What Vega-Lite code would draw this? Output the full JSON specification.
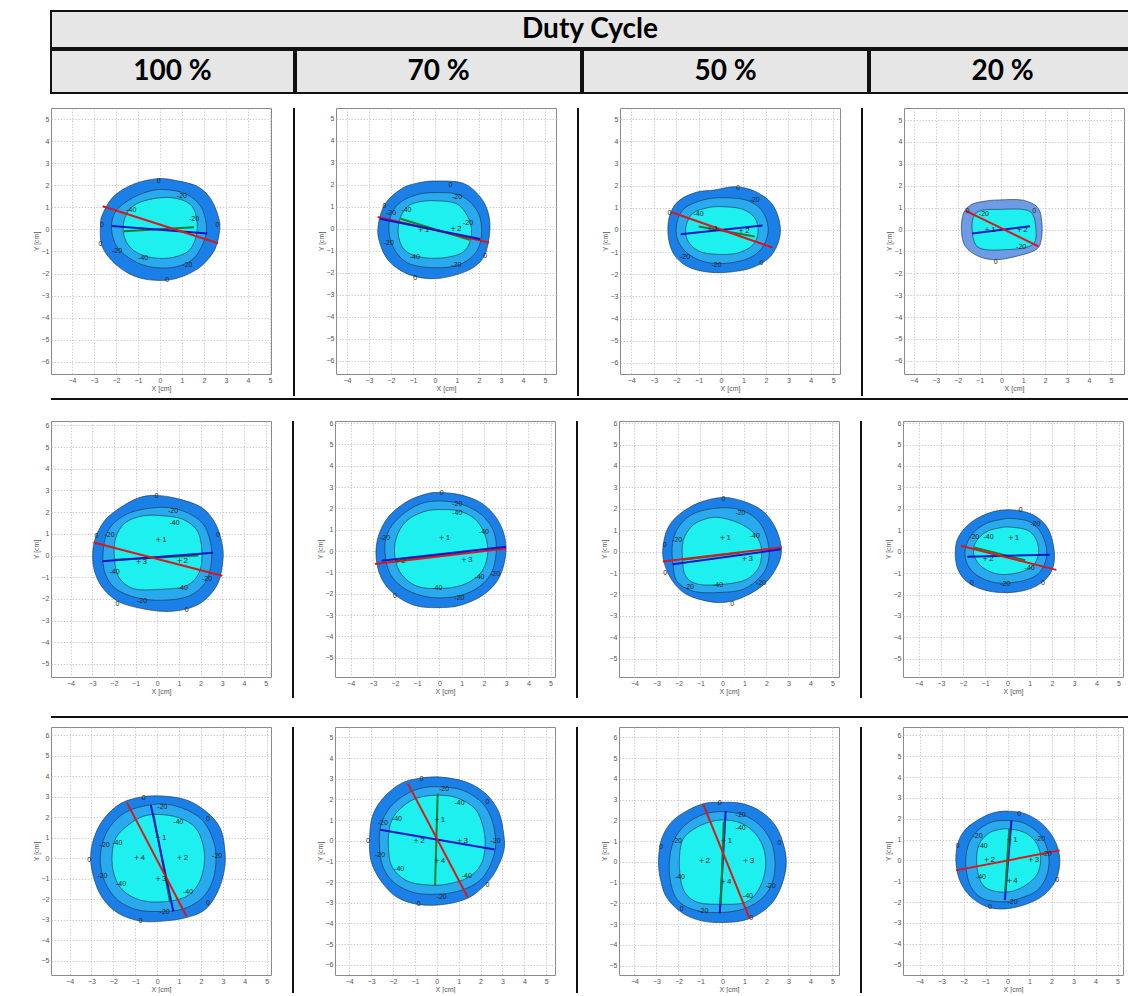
{
"$schema":"https://vega.github.io/schema/vega-lite/v6.json",
"padding":{"left":8,"top":10,"right":0,"bottom":0},
"datasets":{
"contour":[
{"p":1,"l":"0","x":-0.1,"y":2.3},{"p":1,"l":"0","x":0.8,"y":2.2},{"p":1,"l":"0","x":1.7,"y":1.95},{"p":1,"l":"0","x":2.3,"y":1.4},{"p":1,"l":"0","x":2.65,"y":0.6},{"p":1,"l":"0","x":2.72,"y":0.0},{"p":1,"l":"0","x":2.5,"y":-0.9},{"p":1,"l":"0","x":1.9,"y":-1.65},{"p":1,"l":"0","x":1.1,"y":-2.1},{"p":1,"l":"0","x":0.3,"y":-2.3},{"p":1,"l":"0","x":-0.7,"y":-2.25},{"p":1,"l":"0","x":-1.5,"y":-1.95},{"p":1,"l":"0","x":-2.2,"y":-1.4},{"p":1,"l":"0","x":-2.65,"y":-0.7},{"p":1,"l":"0","x":-2.7,"y":0.2},{"p":1,"l":"0","x":-2.6,"y":0.7},{"p":1,"l":"0","x":-2.1,"y":1.5},{"p":1,"l":"0","x":-1.2,"y":2.05},
{"p":1,"l":"-20","x":0.3,"y":1.8},{"p":1,"l":"-20","x":1.2,"y":1.6},{"p":1,"l":"-20","x":1.85,"y":1.05},{"p":1,"l":"-20","x":2.1,"y":0.3},{"p":1,"l":"-20","x":2.05,"y":-0.4},{"p":1,"l":"-20","x":1.6,"y":-1.25},{"p":1,"l":"-20","x":0.9,"y":-1.65},{"p":1,"l":"-20","x":0.1,"y":-1.75},{"p":1,"l":"-20","x":-0.8,"y":-1.6},{"p":1,"l":"-20","x":-1.6,"y":-1.15},{"p":1,"l":"-20","x":-2.05,"y":-0.6},{"p":1,"l":"-20","x":-2.2,"y":0.2},{"p":1,"l":"-20","x":-1.95,"y":0.9},{"p":1,"l":"-20","x":-1.2,"y":1.45},{"p":1,"l":"-20","x":-0.4,"y":1.75},
{"p":1,"l":"-40","x":0.3,"y":1.45},{"p":1,"l":"-40","x":1.1,"y":1.3},{"p":1,"l":"-40","x":1.55,"y":0.9},{"p":1,"l":"-40","x":1.7,"y":0.1},{"p":1,"l":"-40","x":1.55,"y":-0.6},{"p":1,"l":"-40","x":1.2,"y":-1.05},{"p":1,"l":"-40","x":0.4,"y":-1.3},{"p":1,"l":"-40","x":-0.5,"y":-1.25},{"p":1,"l":"-40","x":-1.2,"y":-0.95},{"p":1,"l":"-40","x":-1.6,"y":-0.4},{"p":1,"l":"-40","x":-1.65,"y":0.3},{"p":1,"l":"-40","x":-1.35,"y":0.95},{"p":1,"l":"-40","x":-0.7,"y":1.3},
{"p":2,"l":"0","x":0.05,"y":2.18},{"p":2,"l":"0","x":1.28,"y":2.08},{"p":2,"l":"0","x":2.05,"y":1.46},{"p":2,"l":"0","x":2.43,"y":0.69},{"p":2,"l":"0","x":2.48,"y":-0.23},{"p":2,"l":"0","x":2.2,"y":-1.3},{"p":2,"l":"0","x":1.43,"y":-1.92},{"p":2,"l":"0","x":0.05,"y":-2.26},{"p":2,"l":"0","x":-1.18,"y":-2.08},{"p":2,"l":"0","x":-2.1,"y":-1.46},{"p":2,"l":"0","x":-2.54,"y":-0.54},{"p":2,"l":"0","x":-2.57,"y":0.23},{"p":2,"l":"0","x":-2.26,"y":1.15},{"p":2,"l":"0","x":-1.49,"y":1.85},{"p":2,"l":"0","x":-0.72,"y":2.1},
{"p":2,"l":"-20","x":0,"y":1.65},{"p":2,"l":"-20","x":1.12,"y":1.54},{"p":2,"l":"-20","x":1.9,"y":0.85},{"p":2,"l":"-20","x":2.12,"y":-0.08},{"p":2,"l":"-20","x":1.9,"y":-1.0},{"p":2,"l":"-20","x":1.12,"y":-1.62},{"p":2,"l":"-20","x":0,"y":-1.77},{"p":2,"l":"-20","x":-1.18,"y":-1.58},{"p":2,"l":"-20","x":-1.8,"y":-1.0},{"p":2,"l":"-20","x":-2.08,"y":-0.23},{"p":2,"l":"-20","x":-2.03,"y":0.54},{"p":2,"l":"-20","x":-1.65,"y":1.15},{"p":2,"l":"-20","x":-0.88,"y":1.54},
{"p":2,"l":"-40","x":0,"y":1.28},{"p":2,"l":"-40","x":0.97,"y":1.15},{"p":2,"l":"-40","x":1.5,"y":0.54},{"p":2,"l":"-40","x":1.66,"y":-0.23},{"p":2,"l":"-40","x":1.35,"y":-1.0},{"p":2,"l":"-40","x":0.5,"y":-1.3},{"p":2,"l":"-40","x":-0.57,"y":-1.3},{"p":2,"l":"-40","x":-1.34,"y":-1.0},{"p":2,"l":"-40","x":-1.65,"y":-0.38},{"p":2,"l":"-40","x":-1.62,"y":0.38},{"p":2,"l":"-40","x":-1.26,"y":1.0},{"p":2,"l":"-40","x":-0.72,"y":1.23},
{"p":3,"l":"0","x":-0.3,"y":1.8},{"p":3,"l":"0","x":0.6,"y":1.95},{"p":3,"l":"0","x":1.5,"y":1.75},{"p":3,"l":"0","x":2.25,"y":1.2},{"p":3,"l":"0","x":2.6,"y":0.4},{"p":3,"l":"0","x":2.6,"y":-0.4},{"p":3,"l":"0","x":2.2,"y":-1.2},{"p":3,"l":"0","x":1.4,"y":-1.7},{"p":3,"l":"0","x":0.4,"y":-1.9},{"p":3,"l":"0","x":-0.6,"y":-1.9},{"p":3,"l":"0","x":-1.5,"y":-1.65},{"p":3,"l":"0","x":-2.1,"y":-1.1},{"p":3,"l":"0","x":-2.35,"y":-0.3},{"p":3,"l":"0","x":-2.3,"y":0.6},{"p":3,"l":"0","x":-1.9,"y":1.3},{"p":3,"l":"0","x":-1.1,"y":1.7},
{"p":3,"l":"-20","x":0,"y":1.45},{"p":3,"l":"-20","x":1.1,"y":1.35},{"p":3,"l":"-20","x":1.8,"y":0.9},{"p":3,"l":"-20","x":2.1,"y":0.1},{"p":3,"l":"-20","x":1.9,"y":-0.7},{"p":3,"l":"-20","x":1.3,"y":-1.25},{"p":3,"l":"-20","x":0.3,"y":-1.5},{"p":3,"l":"-20","x":-0.7,"y":-1.45},{"p":3,"l":"-20","x":-1.5,"y":-1.05},{"p":3,"l":"-20","x":-1.95,"y":-0.4},{"p":3,"l":"-20","x":-1.95,"y":0.4},{"p":3,"l":"-20","x":-1.6,"y":1.0},{"p":3,"l":"-20","x":-0.8,"y":1.35},
{"p":3,"l":"-40","x":0,"y":1.05},{"p":3,"l":"-40","x":0.9,"y":0.95},{"p":3,"l":"-40","x":1.5,"y":0.55},{"p":3,"l":"-40","x":1.65,"y":-0.1},{"p":3,"l":"-40","x":1.4,"y":-0.7},{"p":3,"l":"-40","x":0.7,"y":-1.05},{"p":3,"l":"-40","x":-0.2,"y":-1.1},{"p":3,"l":"-40","x":-1.0,"y":-0.95},{"p":3,"l":"-40","x":-1.5,"y":-0.45},{"p":3,"l":"-40","x":-1.55,"y":0.2},{"p":3,"l":"-40","x":-1.25,"y":0.75},{"p":3,"l":"-40","x":-0.6,"y":1.0},
{"p":4,"l":"0","x":-0.1,"y":1.35},{"p":4,"l":"0","x":0.97,"y":1.34},{"p":4,"l":"0","x":1.66,"y":1.0},{"p":4,"l":"0","x":1.85,"y":0.3},{"p":4,"l":"0","x":1.82,"y":-0.46},{"p":4,"l":"0","x":1.58,"y":-0.92},{"p":4,"l":"0","x":0.66,"y":-1.23},{"p":4,"l":"0","x":-0.26,"y":-1.38},{"p":4,"l":"0","x":-1.03,"y":-1.23},{"p":4,"l":"0","x":-1.65,"y":-0.77},{"p":4,"l":"0","x":-1.83,"y":0},{"p":4,"l":"0","x":-1.72,"y":0.77},{"p":4,"l":"0","x":-1.34,"y":1.15},{"p":4,"l":"0","x":-0.72,"y":1.3},
{"p":4,"l":"-20","x":-0.1,"y":0.92},{"p":4,"l":"-20","x":0.97,"y":0.92},{"p":4,"l":"-20","x":1.43,"y":0.69},{"p":4,"l":"-20","x":1.58,"y":0},{"p":4,"l":"-20","x":1.5,"y":-0.62},{"p":4,"l":"-20","x":0.97,"y":-0.85},{"p":4,"l":"-20","x":0.2,"y":-0.92},{"p":4,"l":"-20","x":-0.72,"y":-0.92},{"p":4,"l":"-20","x":-1.18,"y":-0.69},{"p":4,"l":"-20","x":-1.34,"y":0},{"p":4,"l":"-20","x":-1.26,"y":0.62},{"p":4,"l":"-20","x":-0.88,"y":0.88},
{"p":5,"l":"0","x":-0.03,"y":2.77},{"p":5,"l":"0","x":1.03,"y":2.6},{"p":5,"l":"0","x":2.07,"y":2.2},{"p":5,"l":"0","x":2.67,"y":1.5},{"p":5,"l":"0","x":2.97,"y":0.65},{"p":5,"l":"0","x":3.04,"y":-0.14},{"p":5,"l":"0","x":2.82,"y":-1.24},{"p":5,"l":"0","x":2.22,"y":-2.03},{"p":5,"l":"0","x":1.47,"y":-2.43},{"p":5,"l":"0","x":0.42,"y":-2.58},{"p":5,"l":"0","x":-0.78,"y":-2.43},{"p":5,"l":"0","x":-1.83,"y":-2.1},{"p":5,"l":"0","x":-2.58,"y":-1.4},{"p":5,"l":"0","x":-2.95,"y":-0.46},{"p":5,"l":"0","x":-2.9,"y":0.65},{"p":5,"l":"0","x":-2.43,"y":1.6},{"p":5,"l":"0","x":-1.68,"y":2.22},{"p":5,"l":"0","x":-0.85,"y":2.66},
{"p":5,"l":"-20","x":0.12,"y":2.22},{"p":5,"l":"-20","x":1.18,"y":2.06},{"p":5,"l":"-20","x":2.07,"y":1.51},{"p":5,"l":"-20","x":2.45,"y":0.65},{"p":5,"l":"-20","x":2.5,"y":-0.3},{"p":5,"l":"-20","x":2.22,"y":-1.24},{"p":5,"l":"-20","x":1.47,"y":-1.87},{"p":5,"l":"-20","x":0.27,"y":-2.06},{"p":5,"l":"-20","x":-0.93,"y":-1.95},{"p":5,"l":"-20","x":-1.98,"y":-1.48},{"p":5,"l":"-20","x":-2.46,"y":-0.61},{"p":5,"l":"-20","x":-2.46,"y":0.49},{"p":5,"l":"-20","x":-2.13,"y":1.35},{"p":5,"l":"-20","x":-1.23,"y":1.98},
{"p":5,"l":"-40","x":0.27,"y":1.83},{"p":5,"l":"-40","x":1.18,"y":1.67},{"p":5,"l":"-40","x":1.86,"y":1.12},{"p":5,"l":"-40","x":2.06,"y":0.17},{"p":5,"l":"-40","x":1.94,"y":-0.77},{"p":5,"l":"-40","x":1.33,"y":-1.4},{"p":5,"l":"-40","x":0.12,"y":-1.56},{"p":5,"l":"-40","x":-1.09,"y":-1.53},{"p":5,"l":"-40","x":-1.77,"y":-1.0},{"p":5,"l":"-40","x":-1.97,"y":-0.14},{"p":5,"l":"-40","x":-1.92,"y":0.8},{"p":5,"l":"-40","x":-1.47,"y":1.51},{"p":5,"l":"-40","x":-0.64,"y":1.83},
{"p":6,"l":"0","x":-0.1,"y":2.75},{"p":6,"l":"0","x":0.9,"y":2.65},{"p":6,"l":"0","x":1.9,"y":2.25},{"p":6,"l":"0","x":2.6,"y":1.5},{"p":6,"l":"0","x":2.95,"y":0.6},{"p":6,"l":"0","x":2.95,"y":-0.4},{"p":6,"l":"0","x":2.6,"y":-1.4},{"p":6,"l":"0","x":1.9,"y":-2.1},{"p":6,"l":"0","x":0.9,"y":-2.55},{"p":6,"l":"0","x":-0.1,"y":-2.65},{"p":6,"l":"0","x":-1.1,"y":-2.55},{"p":6,"l":"0","x":-2.0,"y":-2.05},{"p":6,"l":"0","x":-2.6,"y":-1.3},{"p":6,"l":"0","x":-2.85,"y":-0.3},{"p":6,"l":"0","x":-2.75,"y":0.7},{"p":6,"l":"0","x":-2.3,"y":1.6},{"p":6,"l":"0","x":-1.5,"y":2.3},{"p":6,"l":"0","x":-0.7,"y":2.65},
{"p":6,"l":"-20","x":0,"y":2.35},{"p":6,"l":"-20","x":1.0,"y":2.2},{"p":6,"l":"-20","x":1.9,"y":1.7},{"p":6,"l":"-20","x":2.45,"y":0.9},{"p":6,"l":"-20","x":2.55,"y":-0.1},{"p":6,"l":"-20","x":2.3,"y":-1.1},{"p":6,"l":"-20","x":1.6,"y":-1.8},{"p":6,"l":"-20","x":0.6,"y":-2.15},{"p":6,"l":"-20","x":-0.5,"y":-2.15},{"p":6,"l":"-20","x":-1.5,"y":-1.8},{"p":6,"l":"-20","x":-2.2,"y":-1.1},{"p":6,"l":"-20","x":-2.45,"y":-0.1},{"p":6,"l":"-20","x":-2.35,"y":0.8},{"p":6,"l":"-20","x":-1.8,"y":1.6},{"p":6,"l":"-20","x":-0.9,"y":2.2},
{"p":6,"l":"-40","x":0.1,"y":1.95},{"p":6,"l":"-40","x":1.0,"y":1.85},{"p":6,"l":"-40","x":1.7,"y":1.4},{"p":6,"l":"-40","x":2.1,"y":0.6},{"p":6,"l":"-40","x":2.15,"y":-0.3},{"p":6,"l":"-40","x":1.8,"y":-1.1},{"p":6,"l":"-40","x":1.0,"y":-1.6},{"p":6,"l":"-40","x":0.0,"y":-1.75},{"p":6,"l":"-40","x":-1.0,"y":-1.65},{"p":6,"l":"-40","x":-1.7,"y":-1.1},{"p":6,"l":"-40","x":-2.0,"y":-0.3},{"p":6,"l":"-40","x":-1.95,"y":0.6},{"p":6,"l":"-40","x":-1.5,"y":1.4},{"p":6,"l":"-40","x":-0.7,"y":1.85},
{"p":7,"l":"0","x":0,"y":2.53},{"p":7,"l":"0","x":0.96,"y":2.35},{"p":7,"l":"0","x":1.83,"y":1.9},{"p":7,"l":"0","x":2.4,"y":1.14},{"p":7,"l":"0","x":2.67,"y":0.23},{"p":7,"l":"0","x":2.56,"y":-0.53},{"p":7,"l":"0","x":1.98,"y":-1.44},{"p":7,"l":"0","x":1.1,"y":-2.05},{"p":7,"l":"0","x":0.22,"y":-2.35},{"p":7,"l":"0","x":-0.65,"y":-2.32},{"p":7,"l":"0","x":-1.67,"y":-1.97},{"p":7,"l":"0","x":-2.32,"y":-1.29},{"p":7,"l":"0","x":-2.68,"y":-0.38},{"p":7,"l":"0","x":-2.68,"y":0.38},{"p":7,"l":"0","x":-2.46,"y":1.14},{"p":7,"l":"0","x":-1.95,"y":1.75},{"p":7,"l":"0","x":-1.08,"y":2.28},
{"p":7,"l":"-20","x":0,"y":2.05},{"p":7,"l":"-20","x":0.96,"y":1.9},{"p":7,"l":"-20","x":1.68,"y":1.37},{"p":7,"l":"-20","x":2.05,"y":0.53},{"p":7,"l":"-20","x":2.1,"y":-0.38},{"p":7,"l":"-20","x":1.76,"y":-1.14},{"p":7,"l":"-20","x":0.96,"y":-1.75},{"p":7,"l":"-20","x":-0.06,"y":-1.9},{"p":7,"l":"-20","x":-1.22,"y":-1.87},{"p":7,"l":"-20","x":-2.02,"y":-1.44},{"p":7,"l":"-20","x":-2.24,"y":-0.68},{"p":7,"l":"-20","x":-2.27,"y":0.38},{"p":7,"l":"-20","x":-1.95,"y":1.21},{"p":7,"l":"-20","x":-1.22,"y":1.82},
{"p":7,"l":"-40","x":-0.2,"y":1.6},{"p":7,"l":"-40","x":0.67,"y":1.37},{"p":7,"l":"-40","x":1.39,"y":0.91},{"p":7,"l":"-40","x":1.76,"y":0.23},{"p":7,"l":"-40","x":1.68,"y":-0.68},{"p":7,"l":"-40","x":1.1,"y":-1.29},{"p":7,"l":"-40","x":0.07,"y":-1.52},{"p":7,"l":"-40","x":-1.09,"y":-1.52},{"p":7,"l":"-40","x":-1.67,"y":-1.14},{"p":7,"l":"-40","x":-1.81,"y":-0.38},{"p":7,"l":"-40","x":-1.78,"y":0.53},{"p":7,"l":"-40","x":-1.37,"y":1.21},{"p":7,"l":"-40","x":-0.79,"y":1.52},
{"p":8,"l":"0","x":0.2,"y":1.95},{"p":8,"l":"0","x":1.1,"y":1.75},{"p":8,"l":"0","x":1.75,"y":1.2},{"p":8,"l":"0","x":2.05,"y":0.4},{"p":8,"l":"0","x":2.1,"y":-0.5},{"p":8,"l":"0","x":1.8,"y":-1.2},{"p":8,"l":"0","x":1.1,"y":-1.7},{"p":8,"l":"0","x":0.2,"y":-1.9},{"p":8,"l":"0","x":-0.8,"y":-1.85},{"p":8,"l":"0","x":-1.7,"y":-1.5},{"p":8,"l":"0","x":-2.2,"y":-0.9},{"p":8,"l":"0","x":-2.35,"y":-0.1},{"p":8,"l":"0","x":-2.2,"y":0.7},{"p":8,"l":"0","x":-1.6,"y":1.4},{"p":8,"l":"0","x":-0.7,"y":1.85},
{"p":8,"l":"-20","x":0.2,"y":1.55},{"p":8,"l":"-20","x":1.0,"y":1.4},{"p":8,"l":"-20","x":1.5,"y":0.9},{"p":8,"l":"-20","x":1.75,"y":0.2},{"p":8,"l":"-20","x":1.7,"y":-0.5},{"p":8,"l":"-20","x":1.3,"y":-1.1},{"p":8,"l":"-20","x":0.5,"y":-1.4},{"p":8,"l":"-20","x":-0.5,"y":-1.45},{"p":8,"l":"-20","x":-1.3,"y":-1.15},{"p":8,"l":"-20","x":-1.8,"y":-0.6},{"p":8,"l":"-20","x":-1.9,"y":0.1},{"p":8,"l":"-20","x":-1.6,"y":0.8},{"p":8,"l":"-20","x":-1.0,"y":1.3},{"p":8,"l":"-20","x":-0.3,"y":1.5},
{"p":8,"l":"-40","x":0.1,"y":1.15},{"p":8,"l":"-40","x":0.9,"y":1.0},{"p":8,"l":"-40","x":1.3,"y":0.55},{"p":8,"l":"-40","x":1.4,"y":-0.1},{"p":8,"l":"-40","x":1.1,"y":-0.7},{"p":8,"l":"-40","x":0.4,"y":-1.0},{"p":8,"l":"-40","x":-0.4,"y":-1.05},{"p":8,"l":"-40","x":-1.1,"y":-0.75},{"p":8,"l":"-40","x":-1.5,"y":-0.2},{"p":8,"l":"-40","x":-1.45,"y":0.4},{"p":8,"l":"-40","x":-1.0,"y":0.9},{"p":8,"l":"-40","x":-0.4,"y":1.1},
{"p":9,"l":"0","x":-0.62,"y":3.0},{"p":9,"l":"0","x":0.41,"y":3.02},{"p":9,"l":"0","x":1.44,"y":2.8},{"p":9,"l":"0","x":2.32,"y":2.2},{"p":9,"l":"0","x":2.9,"y":1.42},{"p":9,"l":"0","x":3.1,"y":0.31},{"p":9,"l":"0","x":3.06,"y":-0.63},{"p":9,"l":"0","x":2.76,"y":-1.65},{"p":9,"l":"0","x":2.18,"y":-2.52},{"p":9,"l":"0","x":1.29,"y":-2.91},{"p":9,"l":"0","x":0.26,"y":-3.07},{"p":9,"l":"0","x":-0.76,"y":-3.07},{"p":9,"l":"0","x":-1.8,"y":-2.68},{"p":9,"l":"0","x":-2.53,"y":-1.89},{"p":9,"l":"0","x":-2.9,"y":-0.94},{"p":9,"l":"0","x":-3.04,"y":0},{"p":9,"l":"0","x":-2.9,"y":0.94},{"p":9,"l":"0","x":-2.46,"y":1.89},{"p":9,"l":"0","x":-1.65,"y":2.68},
{"p":9,"l":"-20","x":0.12,"y":2.65},{"p":9,"l":"-20","x":1.15,"y":2.44},{"p":9,"l":"-20","x":2.03,"y":1.89},{"p":9,"l":"-20","x":2.54,"y":0.94},{"p":9,"l":"-20","x":2.69,"y":0},{"p":9,"l":"-20","x":2.54,"y":-1.1},{"p":9,"l":"-20","x":2.03,"y":-1.97},{"p":9,"l":"-20","x":1.15,"y":-2.49},{"p":9,"l":"-20","x":0.12,"y":-2.6},{"p":9,"l":"-20","x":-0.91,"y":-2.52},{"p":9,"l":"-20","x":-1.8,"y":-2.05},{"p":9,"l":"-20","x":-2.38,"y":-1.18},{"p":9,"l":"-20","x":-2.6,"y":-0.16},{"p":9,"l":"-20","x":-2.46,"y":0.87},{"p":9,"l":"-20","x":-2.01,"y":1.73},{"p":9,"l":"-20","x":-1.21,"y":2.36},
{"p":9,"l":"-40","x":0.12,"y":2.13},{"p":9,"l":"-40","x":1.0,"y":1.97},{"p":9,"l":"-40","x":1.74,"y":1.5},{"p":9,"l":"-40","x":2.1,"y":0.63},{"p":9,"l":"-40","x":2.15,"y":-0.31},{"p":9,"l":"-40","x":1.88,"y":-1.26},{"p":9,"l":"-40","x":1.29,"y":-1.89},{"p":9,"l":"-40","x":0.26,"y":-2.13},{"p":9,"l":"-40","x":-0.76,"y":-2.05},{"p":9,"l":"-40","x":-1.57,"y":-1.57},{"p":9,"l":"-40","x":-1.97,"y":-0.79},{"p":9,"l":"-40","x":-2.06,"y":0.16},{"p":9,"l":"-40","x":-1.87,"y":1.02},{"p":9,"l":"-40","x":-1.28,"y":1.65},{"p":9,"l":"-40","x":-0.62,"y":2.05},
{"p":10,"l":"0","x":-0.9,"y":3.0},{"p":10,"l":"0","x":0.14,"y":3.08},{"p":10,"l":"0","x":1.34,"y":2.84},{"p":10,"l":"0","x":2.23,"y":2.28},{"p":10,"l":"0","x":2.83,"y":1.4},{"p":10,"l":"0","x":3.06,"y":0.29},{"p":10,"l":"0","x":3.06,"y":-0.51},{"p":10,"l":"0","x":2.69,"y":-1.47},{"p":10,"l":"0","x":2.23,"y":-2.11},{"p":10,"l":"0","x":1.48,"y":-2.75},{"p":10,"l":"0","x":0.43,"y":-3.07},{"p":10,"l":"0","x":-0.76,"y":-3.1},{"p":10,"l":"0","x":-1.8,"y":-2.75},{"p":10,"l":"0","x":-2.55,"y":-1.95},{"p":10,"l":"0","x":-3.0,"y":-0.99},{"p":10,"l":"0","x":-3.07,"y":0.13},{"p":10,"l":"0","x":-2.92,"y":1.25},{"p":10,"l":"0","x":-2.4,"y":2.12},{"p":10,"l":"0","x":-1.65,"y":2.76},
{"p":10,"l":"-20","x":0.14,"y":2.6},{"p":10,"l":"-20","x":1.19,"y":2.44},{"p":10,"l":"-20","x":2.09,"y":1.81},{"p":10,"l":"-20","x":2.54,"y":0.93},{"p":10,"l":"-20","x":2.69,"y":-0.19},{"p":10,"l":"-20","x":2.46,"y":-1.15},{"p":10,"l":"-20","x":1.94,"y":-1.95},{"p":10,"l":"-20","x":1.04,"y":-2.43},{"p":10,"l":"-20","x":0,"y":-2.59},{"p":10,"l":"-20","x":-1.05,"y":-2.51},{"p":10,"l":"-20","x":-1.95,"y":-2.03},{"p":10,"l":"-20","x":-2.47,"y":-1.23},{"p":10,"l":"-20","x":-2.62,"y":-0.19},{"p":10,"l":"-20","x":-2.55,"y":0.77},{"p":10,"l":"-20","x":-2.1,"y":1.65},{"p":10,"l":"-20","x":-1.35,"y":2.28},{"p":10,"l":"-20","x":-0.6,"y":2.56},
{"p":10,"l":"-40","x":0,"y":2.2},{"p":10,"l":"-40","x":0.9,"y":2.08},{"p":10,"l":"-40","x":1.72,"y":1.57},{"p":10,"l":"-40","x":2.09,"y":0.77},{"p":10,"l":"-40","x":2.21,"y":-0.19},{"p":10,"l":"-40","x":2.02,"y":-1.15},{"p":10,"l":"-40","x":1.42,"y":-1.79},{"p":10,"l":"-40","x":0.43,"y":-2.11},{"p":10,"l":"-40","x":-0.46,"y":-2.14},{"p":10,"l":"-40","x":-1.35,"y":-1.95},{"p":10,"l":"-40","x":-2.02,"y":-1.31},{"p":10,"l":"-40","x":-2.21,"y":-0.35},{"p":10,"l":"-40","x":-2.13,"y":0.77},{"p":10,"l":"-40","x":-1.72,"y":1.49},{"p":10,"l":"-40","x":-0.97,"y":2.04},
{"p":11,"l":"0","x":-0.12,"y":2.87},{"p":11,"l":"0","x":0.86,"y":2.82},{"p":11,"l":"0","x":1.76,"y":2.42},{"p":11,"l":"0","x":2.44,"y":1.7},{"p":11,"l":"0","x":2.82,"y":0.67},{"p":11,"l":"0","x":2.89,"y":-0.29},{"p":11,"l":"0","x":2.59,"y":-1.4},{"p":11,"l":"0","x":2.06,"y":-2.2},{"p":11,"l":"0","x":1.16,"y":-2.76},{"p":11,"l":"0","x":0.11,"y":-2.92},{"p":11,"l":"0","x":-0.95,"y":-2.84},{"p":11,"l":"0","x":-1.85,"y":-2.44},{"p":11,"l":"0","x":-2.53,"y":-1.72},{"p":11,"l":"0","x":-2.83,"y":-0.77},{"p":11,"l":"0","x":-2.9,"y":0.19},{"p":11,"l":"0","x":-2.75,"y":1.15},{"p":11,"l":"0","x":-2.3,"y":1.94},{"p":11,"l":"0","x":-1.55,"y":2.5},{"p":11,"l":"0","x":-0.8,"y":2.82},
{"p":11,"l":"-20","x":0.03,"y":2.42},{"p":11,"l":"-20","x":0.93,"y":2.26},{"p":11,"l":"-20","x":1.69,"y":1.78},{"p":11,"l":"-20","x":2.21,"y":0.99},{"p":11,"l":"-20","x":2.39,"y":0.03},{"p":11,"l":"-20","x":2.29,"y":-0.92},{"p":11,"l":"-20","x":1.84,"y":-1.72},{"p":11,"l":"-20","x":1.01,"y":-2.25},{"p":11,"l":"-20","x":-0.05,"y":-2.44},{"p":11,"l":"-20","x":-1.1,"y":-2.36},{"p":11,"l":"-20","x":-1.93,"y":-1.96},{"p":11,"l":"-20","x":-2.3,"y":-1.24},{"p":11,"l":"-20","x":-2.42,"y":-0.13},{"p":11,"l":"-20","x":-2.22,"y":0.99},{"p":11,"l":"-20","x":-1.69,"y":1.78},{"p":11,"l":"-20","x":-0.87,"y":2.29},
{"p":11,"l":"-40","x":-0.05,"y":2.02},{"p":11,"l":"-40","x":0.86,"y":1.86},{"p":11,"l":"-40","x":1.54,"y":1.31},{"p":11,"l":"-40","x":1.91,"y":0.51},{"p":11,"l":"-40","x":1.94,"y":-0.45},{"p":11,"l":"-40","x":1.61,"y":-1.4},{"p":11,"l":"-40","x":1.01,"y":-1.96},{"p":11,"l":"-40","x":-0.05,"y":-2.04},{"p":11,"l":"-40","x":-1.1,"y":-1.96},{"p":11,"l":"-40","x":-1.7,"y":-1.48},{"p":11,"l":"-40","x":-1.93,"y":-0.61},{"p":11,"l":"-40","x":-1.93,"y":0.51},{"p":11,"l":"-40","x":-1.7,"y":1.23},{"p":11,"l":"-40","x":-0.95,"y":1.78},
{"p":12,"l":"0","x":0.08,"y":2.36},{"p":12,"l":"0","x":0.83,"y":2.23},{"p":12,"l":"0","x":1.58,"y":1.75},{"p":12,"l":"0","x":2.11,"y":1.04},{"p":12,"l":"0","x":2.37,"y":0.16},{"p":12,"l":"0","x":2.26,"y":-0.8},{"p":12,"l":"0","x":1.81,"y":-1.51},{"p":12,"l":"0","x":1.13,"y":-1.99},{"p":12,"l":"0","x":0.08,"y":-2.31},{"p":12,"l":"0","x":-0.83,"y":-2.26},{"p":12,"l":"0","x":-1.58,"y":-1.83},{"p":12,"l":"0","x":-2.11,"y":-1.11},{"p":12,"l":"0","x":-2.34,"y":-0.16},{"p":12,"l":"0","x":-2.26,"y":0.8},{"p":12,"l":"0","x":-1.89,"y":1.51},{"p":12,"l":"0","x":-1.13,"y":2.07},{"p":12,"l":"0","x":-0.53,"y":2.31},
{"p":12,"l":"-20","x":0.08,"y":1.91},{"p":12,"l":"-20","x":0.83,"y":1.75},{"p":12,"l":"-20","x":1.51,"y":1.19},{"p":12,"l":"-20","x":1.86,"y":0.32},{"p":12,"l":"-20","x":1.81,"y":-0.64},{"p":12,"l":"-20","x":1.36,"y":-1.43},{"p":12,"l":"-20","x":0.53,"y":-1.83},{"p":12,"l":"-20","x":-0.23,"y":-1.99},{"p":12,"l":"-20","x":-1.13,"y":-1.83},{"p":12,"l":"-20","x":-1.66,"y":-1.27},{"p":12,"l":"-20","x":-1.89,"y":-0.32},{"p":12,"l":"-20","x":-1.81,"y":0.64},{"p":12,"l":"-20","x":-1.43,"y":1.35},{"p":12,"l":"-20","x":-0.75,"y":1.83},
{"p":12,"l":"-40","x":0,"y":1.51},{"p":12,"l":"-40","x":0.75,"y":1.35},{"p":12,"l":"-40","x":1.28,"y":0.88},{"p":12,"l":"-40","x":1.51,"y":0.16},{"p":12,"l":"-40","x":1.36,"y":-0.64},{"p":12,"l":"-40","x":0.83,"y":-1.19},{"p":12,"l":"-40","x":0.08,"y":-1.51},{"p":12,"l":"-40","x":-0.75,"y":-1.43},{"p":12,"l":"-40","x":-1.21,"y":-1.04},{"p":12,"l":"-40","x":-1.4,"y":-0.16},{"p":12,"l":"-40","x":-1.31,"y":0.72},{"p":12,"l":"-40","x":-0.9,"y":1.27},{"p":12,"l":"-40","x":-0.45,"y":1.46}
],
"seg":[
{"p":1,"line":"L3","x":-1.64,"y":-0.08,"x2":1.55,"y2":0.1},{"p":1,"line":"L2","x":-2.18,"y":0.15,"x2":2.16,"y2":-0.18},{"p":1,"line":"L1","x":-2.6,"y":1.05,"x2":2.65,"y2":-0.63},
{"p":2,"line":"L3","x":-1.57,"y":0.46,"x2":1.58,"y2":-0.5},{"p":2,"line":"L1","x":-2.6,"y":0.54,"x2":2.46,"y2":-0.62},{"p":2,"line":"L2","x":-2.5,"y":0.46,"x2":2.05,"y2":-0.46},
{"p":3,"line":"L3","x":-1.0,"y":0.15,"x2":1.5,"y2":-0.3},{"p":3,"line":"L2","x":-1.8,"y":-0.2,"x2":1.85,"y2":0.2},{"p":3,"line":"L1","x":-2.2,"y":0.8,"x2":2.3,"y2":-0.8},
{"p":4,"line":"L2","x":-1.34,"y":-0.18,"x2":1.31,"y2":0.15},{"p":4,"line":"L1","x":-1.62,"y":0.85,"x2":1.69,"y2":-0.77},
{"p":5,"line":"L3","x":-2.0,"y":-0.2,"x2":1.9,"y2":0.0},{"p":5,"line":"L2","x":-2.53,"y":-0.27,"x2":2.58,"y2":0.13},{"p":5,"line":"L1","x":-2.94,"y":0.6,"x2":3.0,"y2":-0.93},
{"p":6,"line":"L3","x":-1.8,"y":-0.4,"x2":1.2,"y2":-0.05},{"p":6,"line":"L1","x":-2.9,"y":-0.6,"x2":3.0,"y2":0.12},{"p":6,"line":"L2","x":-2.6,"y":-0.45,"x2":3.0,"y2":0.2},
{"p":7,"line":"L3","x":-1.8,"y":-0.38,"x2":0.8,"y2":-0.05},{"p":7,"line":"L1","x":-2.71,"y":-0.46,"x2":2.7,"y2":0.2},{"p":7,"line":"L2","x":-2.25,"y":-0.59,"x2":2.67,"y2":0.11},
{"p":8,"line":"L3","x":-1.5,"y":0.2,"x2":0.8,"y2":-0.4},{"p":8,"line":"L2","x":-1.8,"y":-0.24,"x2":1.9,"y2":-0.14},{"p":8,"line":"L1","x":-2.1,"y":0.28,"x2":2.2,"y2":-0.85},
{"p":9,"line":"L3","x":-0.18,"y":2.2,"x2":0.59,"y2":-2.13},{"p":9,"line":"L2","x":-0.29,"y":2.6,"x2":0.74,"y2":-2.6},{"p":9,"line":"L1","x":-1.38,"y":2.71,"x2":1.34,"y2":-2.83},
{"p":10,"line":"L3","x":0.04,"y":2.28,"x2":-0.08,"y2":-2.19},{"p":10,"line":"L2","x":-2.59,"y":0.53,"x2":2.64,"y2":-0.43},{"p":10,"line":"L1","x":-1.32,"y":2.76,"x2":1.42,"y2":-2.75},
{"p":11,"line":"L2","x":0.15,"y":2.45,"x2":-0.12,"y2":-2.48},{"p":11,"line":"L3","x":0.06,"y":1.94,"x2":-0.07,"y2":-2.04},{"p":11,"line":"L1","x":-0.87,"y":2.77,"x2":1.23,"y2":-2.71},
{"p":12,"line":"L2","x":0.18,"y":1.91,"x2":-0.12,"y2":-1.91},{"p":12,"line":"L3","x":0.08,"y":1.51,"x2":-0.1,"y2":-1.43},{"p":12,"line":"L1","x":-2.34,"y":-0.48,"x2":2.37,"y2":0.48}
],
"pt":[
{"p":2,"n":"1","x":-0.65,"y":-0.05},{"p":2,"n":"2","x":0.82,"y":0},
{"p":3,"n":"1","x":-0.5,"y":0.05},{"p":3,"n":"2","x":0.9,"y":-0.05},
{"p":4,"n":"1","x":-0.65,"y":0},{"p":4,"n":"2","x":0.82,"y":-0.03},
{"p":5,"n":"1","x":0.05,"y":0.72},{"p":5,"n":"2","x":1.03,"y":-0.27},{"p":5,"n":"3","x":-0.86,"y":-0.3},
{"p":6,"n":"1","x":0.1,"y":0.6},{"p":6,"n":"2","x":-1.9,"y":-0.45},{"p":6,"n":"3","x":1.1,"y":-0.4},
{"p":7,"n":"1","x":0,"y":0.65},{"p":7,"n":"3","x":1.0,"y":-0.33},
{"p":8,"n":"1","x":0.15,"y":0.65},{"p":8,"n":"2","x":-1.0,"y":-0.35},
{"p":9,"n":"1","x":0.04,"y":0.98},{"p":9,"n":"2","x":1.03,"y":0},{"p":9,"n":"3","x":0.04,"y":-1.02},{"p":9,"n":"4","x":-0.94,"y":0},
{"p":10,"n":"1","x":0,"y":1.0},{"p":10,"n":"2","x":-0.94,"y":0},{"p":10,"n":"3","x":1.04,"y":0},{"p":10,"n":"4","x":0,"y":-0.99},
{"p":11,"n":"1","x":0.06,"y":1.02},{"p":11,"n":"2","x":-0.95,"y":0.03},{"p":11,"n":"3","x":1.06,"y":0.03},{"p":11,"n":"4","x":0.03,"y":-0.96},
{"p":12,"n":"1","x":0.08,"y":0.99},{"p":12,"n":"2","x":-0.95,"y":0},{"p":12,"n":"3","x":1.06,"y":0},{"p":12,"n":"4","x":0.08,"y":-0.99}
],
"lab":[
{"p":1,"t":"0","x":-0.05,"y":2.2},{"p":1,"t":"-20","x":1.0,"y":1.5},{"p":1,"t":"-40","x":-1.3,"y":0.9},{"p":1,"t":"-20","x":-1.95,"y":-1.0},{"p":1,"t":"-40","x":-0.76,"y":-1.3},{"p":1,"t":"-20","x":1.25,"y":-1.6},{"p":1,"t":"0","x":2.62,"y":0.22},{"p":1,"t":"0","x":-2.63,"y":0.2},{"p":1,"t":"0","x":-2.7,"y":-0.68},{"p":1,"t":"0","x":0.33,"y":-2.3},{"p":1,"t":"-20","x":1.55,"y":0.45},
{"p":2,"t":"0","x":0.7,"y":2.0},{"p":2,"t":"-20","x":1.0,"y":1.43},{"p":2,"t":"-40","x":-1.3,"y":0.88},{"p":2,"t":"-20","x":-2.0,"y":0.72},{"p":2,"t":"0","x":-2.3,"y":1.03},{"p":2,"t":"-20","x":1.5,"y":0.26},{"p":2,"t":"-20","x":-2.1,"y":-0.66},{"p":2,"t":"-40","x":-0.92,"y":-1.28},{"p":2,"t":"-20","x":0.97,"y":-1.62},{"p":2,"t":"0","x":2.28,"y":-1.23},{"p":2,"t":"0","x":-0.9,"y":-2.23},
{"p":3,"t":"0","x":0.75,"y":1.9},{"p":3,"t":"-20","x":1.5,"y":1.36},{"p":3,"t":"-40","x":-1.0,"y":0.73},{"p":3,"t":"-20","x":-1.6,"y":-1.2},{"p":3,"t":"-20","x":-0.2,"y":-1.6},{"p":3,"t":"0","x":1.8,"y":-1.5},{"p":3,"t":"0","x":-2.3,"y":0.75},
{"p":4,"t":"0","x":-1.55,"y":0.85},{"p":4,"t":"-20","x":-0.8,"y":0.7},{"p":4,"t":"0","x":1.5,"y":0.85},{"p":4,"t":"-20","x":0.9,"y":-0.82},{"p":4,"t":"0","x":-0.26,"y":-1.5},
{"p":5,"t":"0","x":-0.03,"y":2.72},{"p":5,"t":"-20","x":0.73,"y":2.06},{"p":5,"t":"-40","x":0.8,"y":1.51},{"p":5,"t":"-20","x":-2.2,"y":0.96},{"p":5,"t":"0","x":-2.8,"y":0.88},{"p":5,"t":"0","x":2.8,"y":0.93},{"p":5,"t":"-40","x":-1.97,"y":-0.77},{"p":5,"t":"-20","x":2.3,"y":-1.09},{"p":5,"t":"-40","x":1.18,"y":-1.48},{"p":5,"t":"-20","x":-0.7,"y":-2.1},{"p":5,"t":"0","x":-1.83,"y":-2.24},{"p":5,"t":"0","x":1.36,"y":-2.5},
{"p":6,"t":"0","x":0.1,"y":2.72},{"p":6,"t":"-20","x":0.8,"y":2.2},{"p":6,"t":"-40","x":0.8,"y":1.8},{"p":6,"t":"-20","x":-2.45,"y":0.6},{"p":6,"t":"-40","x":2.0,"y":0.9},{"p":6,"t":"-20","x":2.5,"y":-1.05},{"p":6,"t":"-40","x":1.8,"y":-1.2},{"p":6,"t":"-20","x":0.9,"y":-2.2},{"p":6,"t":"-40","x":-0.1,"y":-1.75},{"p":6,"t":"0","x":-2.0,"y":-2.1},
{"p":7,"t":"0","x":0.05,"y":2.45},{"p":7,"t":"-20","x":0.82,"y":1.82},{"p":7,"t":"-40","x":1.47,"y":0.71},{"p":7,"t":"-20","x":-2.06,"y":0.53},{"p":7,"t":"0","x":-2.62,"y":0.3},{"p":7,"t":"-20","x":-1.52,"y":-1.64},{"p":7,"t":"-40","x":-0.2,"y":-1.56},{"p":7,"t":"-20","x":1.76,"y":-1.44},{"p":7,"t":"0","x":0.44,"y":-2.43},{"p":7,"t":"0","x":-2.6,"y":-1.0},
{"p":8,"t":"0","x":0.6,"y":1.95},{"p":8,"t":"-20","x":1.25,"y":1.3},{"p":8,"t":"-20","x":-1.5,"y":0.7},{"p":8,"t":"-40","x":-0.85,"y":0.7},{"p":8,"t":"-40","x":1.0,"y":-0.75},{"p":8,"t":"-20","x":-0.1,"y":-1.5},{"p":8,"t":"0","x":1.6,"y":-1.45},{"p":8,"t":"0","x":-1.6,"y":-1.45},
{"p":9,"t":"0","x":-0.62,"y":2.95},{"p":9,"t":"-20","x":0.24,"y":2.5},{"p":9,"t":"-40","x":0.97,"y":1.76},{"p":9,"t":"0","x":2.32,"y":1.89},{"p":9,"t":"-20","x":-2.4,"y":0.63},{"p":9,"t":"-40","x":-1.82,"y":0.76},{"p":9,"t":"0","x":-3.1,"y":-0.08},{"p":9,"t":"-20","x":2.74,"y":0.13},{"p":9,"t":"-20","x":-2.5,"y":-0.87},{"p":9,"t":"-40","x":-1.65,"y":-1.26},{"p":9,"t":"-40","x":1.41,"y":-1.65},{"p":9,"t":"0","x":2.32,"y":-2.17},{"p":9,"t":"-20","x":0.34,"y":-2.65},{"p":9,"t":"0","x":-0.76,"y":-3.05},
{"p":10,"t":"0","x":-0.7,"y":3.0},{"p":10,"t":"-20","x":0.33,"y":2.52},{"p":10,"t":"-40","x":1.04,"y":1.8},{"p":10,"t":"0","x":2.32,"y":1.88},{"p":10,"t":"-20","x":-2.47,"y":0.85},{"p":10,"t":"-40","x":-1.82,"y":1.05},{"p":10,"t":"0","x":-3.14,"y":-0.03},{"p":10,"t":"-20","x":2.69,"y":0},{"p":10,"t":"-20","x":-2.59,"y":-0.67},{"p":10,"t":"-40","x":-1.72,"y":-1.39},{"p":10,"t":"-40","x":1.37,"y":-1.71},{"p":10,"t":"0","x":2.32,"y":-2.14},{"p":10,"t":"-20","x":0.22,"y":-2.72},{"p":10,"t":"0","x":-0.83,"y":-3.07},
{"p":11,"t":"0","x":-0.12,"y":2.85},{"p":11,"t":"-20","x":0.83,"y":2.26},{"p":11,"t":"-40","x":0.83,"y":1.62},{"p":11,"t":"0","x":2.59,"y":0.91},{"p":11,"t":"-20","x":-2.07,"y":1.02},{"p":11,"t":"0","x":-2.78,"y":0.7},{"p":11,"t":"-40","x":-1.93,"y":-0.72},{"p":11,"t":"-20","x":2.19,"y":-1.16},{"p":11,"t":"-40","x":1.16,"y":-1.64},{"p":11,"t":"0","x":1.31,"y":-2.71},{"p":11,"t":"-20","x":-0.87,"y":-2.36},{"p":11,"t":"0","x":-1.85,"y":-2.28},
{"p":12,"t":"0","x":0.53,"y":2.23},{"p":12,"t":"-20","x":-1.36,"y":1.15},{"p":12,"t":"-40","x":-1.13,"y":0.67},{"p":12,"t":"-20","x":1.48,"y":1.04},{"p":12,"t":"0","x":-2.26,"y":0.67},{"p":12,"t":"-20","x":1.78,"y":0.3},{"p":12,"t":"-40","x":-1.21,"y":-0.8},{"p":12,"t":"0","x":2.26,"y":-0.96},{"p":12,"t":"-20","x":0.23,"y":-1.99},{"p":12,"t":"0","x":-0.8,"y":-2.23}
]
},
"spacing":13,
"vconcat":[
{"spacing":0,"vconcat":[
 {"width":1078,"height":37,"view":{"stroke":null},"data":{"values":[{"label":"Duty Cycle"}]},"layer":[
  {"mark":{"type":"rect","fill":"#e6e6e6","stroke":"#111","strokeWidth":2},"encoding":{}},
  {"mark":{"type":"text","font":"Lato","fontSize":28,"fontWeight":"bold","color":"#000"},"encoding":{"text":{"field":"label"}}}]},
 {"spacing":0,"hconcat":[
  {"width":243,"height":43,"view":{"stroke":null},"data":{"values":[{"label":"100 %"}]},"layer":[{"mark":{"type":"rect","fill":"#e6e6e6","stroke":"#111","strokeWidth":2},"encoding":{}},{"mark":{"type":"text","font":"Lato","fontSize":28,"fontWeight":"bold","color":"#000"},"encoding":{"text":{"field":"label"}}}]},
  {"width":285,"height":43,"view":{"stroke":null},"data":{"values":[{"label":"70 %"}]},"layer":[{"mark":{"type":"rect","fill":"#e6e6e6","stroke":"#111","strokeWidth":2},"encoding":{}},{"mark":{"type":"text","font":"Lato","fontSize":28,"fontWeight":"bold","color":"#000"},"encoding":{"text":{"field":"label"}}}]},
  {"width":285,"height":43,"view":{"stroke":null},"data":{"values":[{"label":"50 %"}]},"layer":[{"mark":{"type":"rect","fill":"#e6e6e6","stroke":"#111","strokeWidth":2},"encoding":{}},{"mark":{"type":"text","font":"Lato","fontSize":28,"fontWeight":"bold","color":"#000"},"encoding":{"text":{"field":"label"}}}]},
  {"width":265,"height":43,"view":{"stroke":null},"data":{"values":[{"label":"20 %"}]},"layer":[{"mark":{"type":"rect","fill":"#e6e6e6","stroke":"#111","strokeWidth":2},"encoding":{}},{"mark":{"type":"text","font":"Lato","fontSize":28,"fontWeight":"bold","color":"#000"},"encoding":{"text":{"field":"label"}}}]}
 ]}
]},
{"spacing":2,"vconcat":[
 {"spacing":20,"hconcat":[
  {"width":220,"height":266,"encoding":{"x":{"field":"x","type":"quantitative","scale":{"domain":[-4.95,5.05],"nice":false,"zero":false},"axis":{"values":[-4,-3,-2,-1,0,1,2,3,4,5],"title":"X [cm]"}},"y":{"field":"y","type":"quantitative","scale":{"domain":[-6.55,5.5],"nice":false,"zero":false},"axis":{"values":[-6,-5,-4,-3,-2,-1,0,1,2,3,4,5],"title":"Y [cm]","titleX":-12,"titleY":133,"minExtent":42,"maxExtent":42}}},
   "layer":[
   {"data":{"name":"contour"},"transform":[{"filter":"datum.p==1 && datum.l=='0'"}],"mark":{"type":"line","interpolate":"cardinal-closed","fill":"#1a80e8","stroke":"#1b2b40","strokeWidth":0.6},"encoding":{"order":{"value":null}}},
   {"data":{"name":"contour"},"transform":[{"filter":"datum.p==1 && datum.l=='-20'"}],"mark":{"type":"line","interpolate":"cardinal-closed","fill":"#2aaaee","stroke":"#1b2b40","strokeWidth":0.6},"encoding":{"order":{"value":null}}},
   {"data":{"name":"contour"},"transform":[{"filter":"datum.p==1 && datum.l=='-40'"}],"mark":{"type":"line","interpolate":"cardinal-closed","fill":"#1ef0f0","stroke":"#1b2b40","strokeWidth":0.6},"encoding":{"order":{"value":null}}},
   {"data":{"name":"seg"},"transform":[{"filter":"datum.p==1"}],"mark":{"type":"rule","strokeWidth":2},"encoding":{"x2":{"field":"x2"},"y2":{"field":"y2"},"color":{"field":"line","type":"nominal","scale":{"domain":["L1","L2","L3"],"range":["#d7191c","#1414c8","#1e7b32"]},"legend":null}}},
   {"data":{"name":"pt"},"transform":[{"filter":"datum.p==1"}],"mark":{"type":"text","text":"+","fontSize":9,"color":"#333"}},
   {"data":{"name":"pt"},"transform":[{"filter":"datum.p==1"}],"mark":{"type":"text","align":"left","dx":4,"fontSize":8,"color":"#222"},"encoding":{"text":{"field":"n"}}},
   {"data":{"name":"lab"},"transform":[{"filter":"datum.p==1"}],"mark":{"type":"text","fontSize":7,"color":"#222"},"encoding":{"text":{"field":"t"}}}]},
  {"width":2,"height":288,"view":{"stroke":null},"data":{"values":[{"part":"column border"}]},"mark":{"type":"rect","color":"#111"},"encoding":{}},
  {"width":220,"height":266,"encoding":{"x":{"field":"x","type":"quantitative","scale":{"domain":[-4.5,5.5],"nice":false,"zero":false},"axis":{"values":[-4,-3,-2,-1,0,1,2,3,4,5],"title":"X [cm]"}},"y":{"field":"y","type":"quantitative","scale":{"domain":[-6.6,5.5],"nice":false,"zero":false},"axis":{"values":[-6,-5,-4,-3,-2,-1,0,1,2,3,4,5],"title":"Y [cm]","titleX":-12,"titleY":133,"minExtent":20,"maxExtent":20}}},
   "layer":[
   {"data":{"name":"contour"},"transform":[{"filter":"datum.p==2 && datum.l=='0'"}],"mark":{"type":"line","interpolate":"cardinal-closed","fill":"#1a80e8","stroke":"#1b2b40","strokeWidth":0.6},"encoding":{"order":{"value":null}}},
   {"data":{"name":"contour"},"transform":[{"filter":"datum.p==2 && datum.l=='-20'"}],"mark":{"type":"line","interpolate":"cardinal-closed","fill":"#2aaaee","stroke":"#1b2b40","strokeWidth":0.6},"encoding":{"order":{"value":null}}},
   {"data":{"name":"contour"},"transform":[{"filter":"datum.p==2 && datum.l=='-40'"}],"mark":{"type":"line","interpolate":"cardinal-closed","fill":"#1ef0f0","stroke":"#1b2b40","strokeWidth":0.6},"encoding":{"order":{"value":null}}},
   {"data":{"name":"seg"},"transform":[{"filter":"datum.p==2"}],"mark":{"type":"rule","strokeWidth":2},"encoding":{"x2":{"field":"x2"},"y2":{"field":"y2"},"color":{"field":"line","type":"nominal","scale":{"domain":["L1","L2","L3"],"range":["#d7191c","#1414c8","#1e7b32"]},"legend":null}}},
   {"data":{"name":"pt"},"transform":[{"filter":"datum.p==2"}],"mark":{"type":"text","text":"+","fontSize":9,"color":"#333"}},
   {"data":{"name":"pt"},"transform":[{"filter":"datum.p==2"}],"mark":{"type":"text","align":"left","dx":4,"fontSize":8,"color":"#222"},"encoding":{"text":{"field":"n"}}},
   {"data":{"name":"lab"},"transform":[{"filter":"datum.p==2"}],"mark":{"type":"text","fontSize":7,"color":"#222"},"encoding":{"text":{"field":"t"}}}]},
  {"width":2,"height":288,"view":{"stroke":null},"data":{"values":[{"part":"column border"}]},"mark":{"type":"rect","color":"#111"},"encoding":{}},
  {"width":220,"height":266,"encoding":{"x":{"field":"x","type":"quantitative","scale":{"domain":[-4.5,5.3],"nice":false,"zero":false},"axis":{"values":[-4,-3,-2,-1,0,1,2,3,4,5],"title":"X [cm]"}},"y":{"field":"y","type":"quantitative","scale":{"domain":[-6.5,5.5],"nice":false,"zero":false},"axis":{"values":[-6,-5,-4,-3,-2,-1,0,1,2,3,4,5],"title":"Y [cm]","titleX":-12,"titleY":133,"minExtent":20,"maxExtent":20}}},
   "layer":[
   {"data":{"name":"contour"},"transform":[{"filter":"datum.p==3 && datum.l=='0'"}],"mark":{"type":"line","interpolate":"cardinal-closed","fill":"#1a80e8","stroke":"#1b2b40","strokeWidth":0.6},"encoding":{"order":{"value":null}}},
   {"data":{"name":"contour"},"transform":[{"filter":"datum.p==3 && datum.l=='-20'"}],"mark":{"type":"line","interpolate":"cardinal-closed","fill":"#2aaaee","stroke":"#1b2b40","strokeWidth":0.6},"encoding":{"order":{"value":null}}},
   {"data":{"name":"contour"},"transform":[{"filter":"datum.p==3 && datum.l=='-40'"}],"mark":{"type":"line","interpolate":"cardinal-closed","fill":"#1ef0f0","stroke":"#1b2b40","strokeWidth":0.6},"encoding":{"order":{"value":null}}},
   {"data":{"name":"seg"},"transform":[{"filter":"datum.p==3"}],"mark":{"type":"rule","strokeWidth":2},"encoding":{"x2":{"field":"x2"},"y2":{"field":"y2"},"color":{"field":"line","type":"nominal","scale":{"domain":["L1","L2","L3"],"range":["#d7191c","#1414c8","#1e7b32"]},"legend":null}}},
   {"data":{"name":"pt"},"transform":[{"filter":"datum.p==3"}],"mark":{"type":"text","text":"+","fontSize":9,"color":"#333"}},
   {"data":{"name":"pt"},"transform":[{"filter":"datum.p==3"}],"mark":{"type":"text","align":"left","dx":4,"fontSize":8,"color":"#222"},"encoding":{"text":{"field":"n"}}},
   {"data":{"name":"lab"},"transform":[{"filter":"datum.p==3"}],"mark":{"type":"text","fontSize":7,"color":"#222"},"encoding":{"text":{"field":"t"}}}]},
  {"width":2,"height":288,"view":{"stroke":null},"data":{"values":[{"part":"column border"}]},"mark":{"type":"rect","color":"#111"},"encoding":{}},
  {"width":220,"height":266,"encoding":{"x":{"field":"x","type":"quantitative","scale":{"domain":[-4.45,5.6],"nice":false,"zero":false},"axis":{"values":[-4,-3,-2,-1,0,1,2,3,4,5],"title":"X [cm]"}},"y":{"field":"y","type":"quantitative","scale":{"domain":[-6.6,5.55],"nice":false,"zero":false},"axis":{"values":[-6,-5,-4,-3,-2,-1,0,1,2,3,4,5],"title":"Y [cm]","titleX":-12,"titleY":133,"minExtent":20,"maxExtent":20}}},
   "layer":[
   {"data":{"name":"contour"},"transform":[{"filter":"datum.p==4 && datum.l=='0'"}],"mark":{"type":"line","interpolate":"cardinal-closed","fill":"#6d9be6","stroke":"#1b2b40","strokeWidth":0.6},"encoding":{"order":{"value":null}}},
   {"data":{"name":"contour"},"transform":[{"filter":"datum.p==4 && datum.l=='-20'"}],"mark":{"type":"line","interpolate":"cardinal-closed","fill":"#1ef0f0","stroke":"#1b2b40","strokeWidth":0.6},"encoding":{"order":{"value":null}}},
   {"data":{"name":"seg"},"transform":[{"filter":"datum.p==4"}],"mark":{"type":"rule","strokeWidth":2},"encoding":{"x2":{"field":"x2"},"y2":{"field":"y2"},"color":{"field":"line","type":"nominal","scale":{"domain":["L1","L2","L3"],"range":["#d7191c","#1414c8","#1e7b32"]},"legend":null}}},
   {"data":{"name":"pt"},"transform":[{"filter":"datum.p==4"}],"mark":{"type":"text","text":"+","fontSize":9,"color":"#333"}},
   {"data":{"name":"pt"},"transform":[{"filter":"datum.p==4"}],"mark":{"type":"text","align":"left","dx":4,"fontSize":8,"color":"#222"},"encoding":{"text":{"field":"n"}}},
   {"data":{"name":"lab"},"transform":[{"filter":"datum.p==4"}],"mark":{"type":"text","fontSize":7,"color":"#222"},"encoding":{"text":{"field":"t"}}}]}
 ]},
 {"spacing":18,"vconcat":[
  {"width":1078,"height":2,"view":{"stroke":null},"data":{"values":[{"part":"row border"}]},"mark":{"type":"rect","color":"#111"},"encoding":{}},
  {"spacing":18,"vconcat":[
   {"spacing":20,"hconcat":[
    {"width":220,"height":256,"encoding":{"x":{"field":"x","type":"quantitative","scale":{"domain":[-4.9,5.25],"nice":false,"zero":false},"axis":{"values":[-4,-3,-2,-1,0,1,2,3,4,5],"title":"X [cm]"}},"y":{"field":"y","type":"quantitative","scale":{"domain":[-5.6,6.2],"nice":false,"zero":false},"axis":{"values":[-5,-4,-3,-2,-1,0,1,2,3,4,5,6],"title":"Y [cm]","titleX":-12,"titleY":128,"minExtent":42,"maxExtent":42}}},
     "layer":[
     {"data":{"name":"contour"},"transform":[{"filter":"datum.p==5 && datum.l=='0'"}],"mark":{"type":"line","interpolate":"cardinal-closed","fill":"#1a80e8","stroke":"#1b2b40","strokeWidth":0.6},"encoding":{"order":{"value":null}}},
     {"data":{"name":"contour"},"transform":[{"filter":"datum.p==5 && datum.l=='-20'"}],"mark":{"type":"line","interpolate":"cardinal-closed","fill":"#2aaaee","stroke":"#1b2b40","strokeWidth":0.6},"encoding":{"order":{"value":null}}},
     {"data":{"name":"contour"},"transform":[{"filter":"datum.p==5 && datum.l=='-40'"}],"mark":{"type":"line","interpolate":"cardinal-closed","fill":"#1ef0f0","stroke":"#1b2b40","strokeWidth":0.6},"encoding":{"order":{"value":null}}},
     {"data":{"name":"seg"},"transform":[{"filter":"datum.p==5"}],"mark":{"type":"rule","strokeWidth":2},"encoding":{"x2":{"field":"x2"},"y2":{"field":"y2"},"color":{"field":"line","type":"nominal","scale":{"domain":["L1","L2","L3"],"range":["#d7191c","#1414c8","#1e7b32"]},"legend":null}}},
     {"data":{"name":"pt"},"transform":[{"filter":"datum.p==5"}],"mark":{"type":"text","text":"+","fontSize":9,"color":"#333"}},
     {"data":{"name":"pt"},"transform":[{"filter":"datum.p==5"}],"mark":{"type":"text","align":"left","dx":4,"fontSize":8,"color":"#222"},"encoding":{"text":{"field":"n"}}},
     {"data":{"name":"lab"},"transform":[{"filter":"datum.p==5"}],"mark":{"type":"text","fontSize":7,"color":"#222"},"encoding":{"text":{"field":"t"}}}]},
    {"width":2,"height":277,"view":{"stroke":null},"data":{"values":[{"part":"column border"}]},"mark":{"type":"rect","color":"#111"},"encoding":{}},
    {"width":220,"height":256,"encoding":{"x":{"field":"x","type":"quantitative","scale":{"domain":[-4.7,5.2],"nice":false,"zero":false},"axis":{"values":[-4,-3,-2,-1,0,1,2,3,4,5],"title":"X [cm]"}},"y":{"field":"y","type":"quantitative","scale":{"domain":[-5.9,6.1],"nice":false,"zero":false},"axis":{"values":[-5,-4,-3,-2,-1,0,1,2,3,4,5,6],"title":"Y [cm]","titleX":-12,"titleY":128,"minExtent":20,"maxExtent":20}}},
     "layer":[
     {"data":{"name":"contour"},"transform":[{"filter":"datum.p==6 && datum.l=='0'"}],"mark":{"type":"line","interpolate":"cardinal-closed","fill":"#1a80e8","stroke":"#1b2b40","strokeWidth":0.6},"encoding":{"order":{"value":null}}},
     {"data":{"name":"contour"},"transform":[{"filter":"datum.p==6 && datum.l=='-20'"}],"mark":{"type":"line","interpolate":"cardinal-closed","fill":"#2aaaee","stroke":"#1b2b40","strokeWidth":0.6},"encoding":{"order":{"value":null}}},
     {"data":{"name":"contour"},"transform":[{"filter":"datum.p==6 && datum.l=='-40'"}],"mark":{"type":"line","interpolate":"cardinal-closed","fill":"#1ef0f0","stroke":"#1b2b40","strokeWidth":0.6},"encoding":{"order":{"value":null}}},
     {"data":{"name":"seg"},"transform":[{"filter":"datum.p==6"}],"mark":{"type":"rule","strokeWidth":2},"encoding":{"x2":{"field":"x2"},"y2":{"field":"y2"},"color":{"field":"line","type":"nominal","scale":{"domain":["L1","L2","L3"],"range":["#d7191c","#1414c8","#1e7b32"]},"legend":null}}},
     {"data":{"name":"pt"},"transform":[{"filter":"datum.p==6"}],"mark":{"type":"text","text":"+","fontSize":9,"color":"#333"}},
     {"data":{"name":"pt"},"transform":[{"filter":"datum.p==6"}],"mark":{"type":"text","align":"left","dx":4,"fontSize":8,"color":"#222"},"encoding":{"text":{"field":"n"}}},
     {"data":{"name":"lab"},"transform":[{"filter":"datum.p==6"}],"mark":{"type":"text","fontSize":7,"color":"#222"},"encoding":{"text":{"field":"t"}}}]},
    {"width":2,"height":277,"view":{"stroke":null},"data":{"values":[{"part":"column border"}]},"mark":{"type":"rect","color":"#111"},"encoding":{}},
    {"width":220,"height":256,"encoding":{"x":{"field":"x","type":"quantitative","scale":{"domain":[-4.7,5.3],"nice":false,"zero":false},"axis":{"values":[-4,-3,-2,-1,0,1,2,3,4,5],"title":"X [cm]"}},"y":{"field":"y","type":"quantitative","scale":{"domain":[-5.85,6.1],"nice":false,"zero":false},"axis":{"values":[-5,-4,-3,-2,-1,0,1,2,3,4,5,6],"title":"Y [cm]","titleX":-12,"titleY":128,"minExtent":20,"maxExtent":20}}},
     "layer":[
     {"data":{"name":"contour"},"transform":[{"filter":"datum.p==7 && datum.l=='0'"}],"mark":{"type":"line","interpolate":"cardinal-closed","fill":"#1a80e8","stroke":"#1b2b40","strokeWidth":0.6},"encoding":{"order":{"value":null}}},
     {"data":{"name":"contour"},"transform":[{"filter":"datum.p==7 && datum.l=='-20'"}],"mark":{"type":"line","interpolate":"cardinal-closed","fill":"#2aaaee","stroke":"#1b2b40","strokeWidth":0.6},"encoding":{"order":{"value":null}}},
     {"data":{"name":"contour"},"transform":[{"filter":"datum.p==7 && datum.l=='-40'"}],"mark":{"type":"line","interpolate":"cardinal-closed","fill":"#1ef0f0","stroke":"#1b2b40","strokeWidth":0.6},"encoding":{"order":{"value":null}}},
     {"data":{"name":"seg"},"transform":[{"filter":"datum.p==7"}],"mark":{"type":"rule","strokeWidth":2},"encoding":{"x2":{"field":"x2"},"y2":{"field":"y2"},"color":{"field":"line","type":"nominal","scale":{"domain":["L1","L2","L3"],"range":["#d7191c","#1414c8","#1e7b32"]},"legend":null}}},
     {"data":{"name":"pt"},"transform":[{"filter":"datum.p==7"}],"mark":{"type":"text","text":"+","fontSize":9,"color":"#333"}},
     {"data":{"name":"pt"},"transform":[{"filter":"datum.p==7"}],"mark":{"type":"text","align":"left","dx":4,"fontSize":8,"color":"#222"},"encoding":{"text":{"field":"n"}}},
     {"data":{"name":"lab"},"transform":[{"filter":"datum.p==7"}],"mark":{"type":"text","fontSize":7,"color":"#222"},"encoding":{"text":{"field":"t"}}}]},
    {"width":2,"height":277,"view":{"stroke":null},"data":{"values":[{"part":"column border"}]},"mark":{"type":"rect","color":"#111"},"encoding":{}},
    {"width":220,"height":256,"encoding":{"x":{"field":"x","type":"quantitative","scale":{"domain":[-4.7,5.2],"nice":false,"zero":false},"axis":{"values":[-4,-3,-2,-1,0,1,2,3,4,5],"title":"X [cm]"}},"y":{"field":"y","type":"quantitative","scale":{"domain":[-5.85,6.1],"nice":false,"zero":false},"axis":{"values":[-5,-4,-3,-2,-1,0,1,2,3,4,5,6],"title":"Y [cm]","titleX":-12,"titleY":128,"minExtent":20,"maxExtent":20}}},
     "layer":[
     {"data":{"name":"contour"},"transform":[{"filter":"datum.p==8 && datum.l=='0'"}],"mark":{"type":"line","interpolate":"cardinal-closed","fill":"#1a80e8","stroke":"#1b2b40","strokeWidth":0.6},"encoding":{"order":{"value":null}}},
     {"data":{"name":"contour"},"transform":[{"filter":"datum.p==8 && datum.l=='-20'"}],"mark":{"type":"line","interpolate":"cardinal-closed","fill":"#2aaaee","stroke":"#1b2b40","strokeWidth":0.6},"encoding":{"order":{"value":null}}},
     {"data":{"name":"contour"},"transform":[{"filter":"datum.p==8 && datum.l=='-40'"}],"mark":{"type":"line","interpolate":"cardinal-closed","fill":"#1ef0f0","stroke":"#1b2b40","strokeWidth":0.6},"encoding":{"order":{"value":null}}},
     {"data":{"name":"seg"},"transform":[{"filter":"datum.p==8"}],"mark":{"type":"rule","strokeWidth":2},"encoding":{"x2":{"field":"x2"},"y2":{"field":"y2"},"color":{"field":"line","type":"nominal","scale":{"domain":["L1","L2","L3"],"range":["#d7191c","#1414c8","#1e7b32"]},"legend":null}}},
     {"data":{"name":"pt"},"transform":[{"filter":"datum.p==8"}],"mark":{"type":"text","text":"+","fontSize":9,"color":"#333"}},
     {"data":{"name":"pt"},"transform":[{"filter":"datum.p==8"}],"mark":{"type":"text","align":"left","dx":4,"fontSize":8,"color":"#222"},"encoding":{"text":{"field":"n"}}},
     {"data":{"name":"lab"},"transform":[{"filter":"datum.p==8"}],"mark":{"type":"text","fontSize":7,"color":"#222"},"encoding":{"text":{"field":"t"}}}]}
   ]},
   {"spacing":8,"vconcat":[
    {"width":1078,"height":2,"view":{"stroke":null},"data":{"values":[{"part":"row border"}]},"mark":{"type":"rect","color":"#111"},"encoding":{}},
    {"spacing":20,"hconcat":[
     {"width":220,"height":248,"encoding":{"x":{"field":"x","type":"quantitative","scale":{"domain":[-4.85,5.2],"nice":false,"zero":false},"axis":{"values":[-4,-3,-2,-1,0,1,2,3,4,5],"title":"X [cm]"}},"y":{"field":"y","type":"quantitative","scale":{"domain":[-5.7,6.4],"nice":false,"zero":false},"axis":{"values":[-5,-4,-3,-2,-1,0,1,2,3,4,5,6],"title":"Y [cm]","titleX":-12,"titleY":124,"minExtent":42,"maxExtent":42}}},
      "layer":[
      {"data":{"name":"contour"},"transform":[{"filter":"datum.p==9 && datum.l=='0'"}],"mark":{"type":"line","interpolate":"cardinal-closed","fill":"#1a80e8","stroke":"#1b2b40","strokeWidth":0.6},"encoding":{"order":{"value":null}}},
      {"data":{"name":"contour"},"transform":[{"filter":"datum.p==9 && datum.l=='-20'"}],"mark":{"type":"line","interpolate":"cardinal-closed","fill":"#2aaaee","stroke":"#1b2b40","strokeWidth":0.6},"encoding":{"order":{"value":null}}},
      {"data":{"name":"contour"},"transform":[{"filter":"datum.p==9 && datum.l=='-40'"}],"mark":{"type":"line","interpolate":"cardinal-closed","fill":"#1ef0f0","stroke":"#1b2b40","strokeWidth":0.6},"encoding":{"order":{"value":null}}},
      {"data":{"name":"seg"},"transform":[{"filter":"datum.p==9"}],"mark":{"type":"rule","strokeWidth":2},"encoding":{"x2":{"field":"x2"},"y2":{"field":"y2"},"color":{"field":"line","type":"nominal","scale":{"domain":["L1","L2","L3"],"range":["#d7191c","#1414c8","#1e7b32"]},"legend":null}}},
      {"data":{"name":"pt"},"transform":[{"filter":"datum.p==9"}],"mark":{"type":"text","text":"+","fontSize":9,"color":"#333"}},
      {"data":{"name":"pt"},"transform":[{"filter":"datum.p==9"}],"mark":{"type":"text","align":"left","dx":4,"fontSize":8,"color":"#222"},"encoding":{"text":{"field":"n"}}},
      {"data":{"name":"lab"},"transform":[{"filter":"datum.p==9"}],"mark":{"type":"text","fontSize":7,"color":"#222"},"encoding":{"text":{"field":"t"}}}]},
     {"width":2,"height":266,"view":{"stroke":null},"data":{"values":[{"part":"column border"}]},"mark":{"type":"rect","color":"#111"},"encoding":{}},
     {"width":220,"height":248,"encoding":{"x":{"field":"x","type":"quantitative","scale":{"domain":[-4.65,5.4],"nice":false,"zero":false},"axis":{"values":[-4,-3,-2,-1,0,1,2,3,4,5],"title":"X [cm]"}},"y":{"field":"y","type":"quantitative","scale":{"domain":[-6.5,5.5],"nice":false,"zero":false},"axis":{"values":[-6,-5,-4,-3,-2,-1,0,1,2,3,4,5],"title":"Y [cm]","titleX":-12,"titleY":124,"minExtent":20,"maxExtent":20}}},
      "layer":[
      {"data":{"name":"contour"},"transform":[{"filter":"datum.p==10 && datum.l=='0'"}],"mark":{"type":"line","interpolate":"cardinal-closed","fill":"#1a80e8","stroke":"#1b2b40","strokeWidth":0.6},"encoding":{"order":{"value":null}}},
      {"data":{"name":"contour"},"transform":[{"filter":"datum.p==10 && datum.l=='-20'"}],"mark":{"type":"line","interpolate":"cardinal-closed","fill":"#2aaaee","stroke":"#1b2b40","strokeWidth":0.6},"encoding":{"order":{"value":null}}},
      {"data":{"name":"contour"},"transform":[{"filter":"datum.p==10 && datum.l=='-40'"}],"mark":{"type":"line","interpolate":"cardinal-closed","fill":"#1ef0f0","stroke":"#1b2b40","strokeWidth":0.6},"encoding":{"order":{"value":null}}},
      {"data":{"name":"seg"},"transform":[{"filter":"datum.p==10"}],"mark":{"type":"rule","strokeWidth":2},"encoding":{"x2":{"field":"x2"},"y2":{"field":"y2"},"color":{"field":"line","type":"nominal","scale":{"domain":["L1","L2","L3"],"range":["#d7191c","#1414c8","#1e7b32"]},"legend":null}}},
      {"data":{"name":"pt"},"transform":[{"filter":"datum.p==10"}],"mark":{"type":"text","text":"+","fontSize":9,"color":"#333"}},
      {"data":{"name":"pt"},"transform":[{"filter":"datum.p==10"}],"mark":{"type":"text","align":"left","dx":4,"fontSize":8,"color":"#222"},"encoding":{"text":{"field":"n"}}},
      {"data":{"name":"lab"},"transform":[{"filter":"datum.p==10"}],"mark":{"type":"text","fontSize":7,"color":"#222"},"encoding":{"text":{"field":"t"}}}]},
     {"width":2,"height":266,"view":{"stroke":null},"data":{"values":[{"part":"column border"}]},"mark":{"type":"rect","color":"#111"},"encoding":{}},
     {"width":220,"height":248,"encoding":{"x":{"field":"x","type":"quantitative","scale":{"domain":[-4.7,5.3],"nice":false,"zero":false},"axis":{"values":[-4,-3,-2,-1,0,1,2,3,4,5],"title":"X [cm]"}},"y":{"field":"y","type":"quantitative","scale":{"domain":[-5.45,6.5],"nice":false,"zero":false},"axis":{"values":[-5,-4,-3,-2,-1,0,1,2,3,4,5,6],"title":"Y [cm]","titleX":-12,"titleY":124,"minExtent":20,"maxExtent":20}}},
      "layer":[
      {"data":{"name":"contour"},"transform":[{"filter":"datum.p==11 && datum.l=='0'"}],"mark":{"type":"line","interpolate":"cardinal-closed","fill":"#1a80e8","stroke":"#1b2b40","strokeWidth":0.6},"encoding":{"order":{"value":null}}},
      {"data":{"name":"contour"},"transform":[{"filter":"datum.p==11 && datum.l=='-20'"}],"mark":{"type":"line","interpolate":"cardinal-closed","fill":"#2aaaee","stroke":"#1b2b40","strokeWidth":0.6},"encoding":{"order":{"value":null}}},
      {"data":{"name":"contour"},"transform":[{"filter":"datum.p==11 && datum.l=='-40'"}],"mark":{"type":"line","interpolate":"cardinal-closed","fill":"#1ef0f0","stroke":"#1b2b40","strokeWidth":0.6},"encoding":{"order":{"value":null}}},
      {"data":{"name":"seg"},"transform":[{"filter":"datum.p==11"}],"mark":{"type":"rule","strokeWidth":2},"encoding":{"x2":{"field":"x2"},"y2":{"field":"y2"},"color":{"field":"line","type":"nominal","scale":{"domain":["L1","L2","L3"],"range":["#d7191c","#1414c8","#1e7b32"]},"legend":null}}},
      {"data":{"name":"pt"},"transform":[{"filter":"datum.p==11"}],"mark":{"type":"text","text":"+","fontSize":9,"color":"#333"}},
      {"data":{"name":"pt"},"transform":[{"filter":"datum.p==11"}],"mark":{"type":"text","align":"left","dx":4,"fontSize":8,"color":"#222"},"encoding":{"text":{"field":"n"}}},
      {"data":{"name":"lab"},"transform":[{"filter":"datum.p==11"}],"mark":{"type":"text","fontSize":7,"color":"#222"},"encoding":{"text":{"field":"t"}}}]},
     {"width":2,"height":266,"view":{"stroke":null},"data":{"values":[{"part":"column border"}]},"mark":{"type":"rect","color":"#111"},"encoding":{}},
     {"width":220,"height":248,"encoding":{"x":{"field":"x","type":"quantitative","scale":{"domain":[-4.75,5.25],"nice":false,"zero":false},"axis":{"values":[-4,-3,-2,-1,0,1,2,3,4,5],"title":"X [cm]"}},"y":{"field":"y","type":"quantitative","scale":{"domain":[-5.5,6.4],"nice":false,"zero":false},"axis":{"values":[-5,-4,-3,-2,-1,0,1,2,3,4,5,6],"title":"Y [cm]","titleX":-12,"titleY":124,"minExtent":20,"maxExtent":20}}},
      "layer":[
      {"data":{"name":"contour"},"transform":[{"filter":"datum.p==12 && datum.l=='0'"}],"mark":{"type":"line","interpolate":"cardinal-closed","fill":"#1a80e8","stroke":"#1b2b40","strokeWidth":0.6},"encoding":{"order":{"value":null}}},
      {"data":{"name":"contour"},"transform":[{"filter":"datum.p==12 && datum.l=='-20'"}],"mark":{"type":"line","interpolate":"cardinal-closed","fill":"#2aaaee","stroke":"#1b2b40","strokeWidth":0.6},"encoding":{"order":{"value":null}}},
      {"data":{"name":"contour"},"transform":[{"filter":"datum.p==12 && datum.l=='-40'"}],"mark":{"type":"line","interpolate":"cardinal-closed","fill":"#1ef0f0","stroke":"#1b2b40","strokeWidth":0.6},"encoding":{"order":{"value":null}}},
      {"data":{"name":"seg"},"transform":[{"filter":"datum.p==12"}],"mark":{"type":"rule","strokeWidth":2},"encoding":{"x2":{"field":"x2"},"y2":{"field":"y2"},"color":{"field":"line","type":"nominal","scale":{"domain":["L1","L2","L3"],"range":["#d7191c","#1414c8","#1e7b32"]},"legend":null}}},
      {"data":{"name":"pt"},"transform":[{"filter":"datum.p==12"}],"mark":{"type":"text","text":"+","fontSize":9,"color":"#333"}},
      {"data":{"name":"pt"},"transform":[{"filter":"datum.p==12"}],"mark":{"type":"text","align":"left","dx":4,"fontSize":8,"color":"#222"},"encoding":{"text":{"field":"n"}}},
      {"data":{"name":"lab"},"transform":[{"filter":"datum.p==12"}],"mark":{"type":"text","fontSize":7,"color":"#222"},"encoding":{"text":{"field":"t"}}}]}
    ]}
   ]}
  ]}
 ]}
]}
],
"config":{
 "font":"Liberation Sans",
 "view":{"stroke":"#8a8a8a","strokeWidth":1},
 "axis":{"grid":true,"gridColor":"#c4c4c4","gridDash":[1.5,1.5],"gridWidth":0.8,"ticks":false,"domain":false,"labelFontSize":7,"labelColor":"#555","labelPadding":2,"labelFlush":false,"titleFontSize":7,"titleFontWeight":"normal","titleColor":"#555","titlePadding":1}
}
}
